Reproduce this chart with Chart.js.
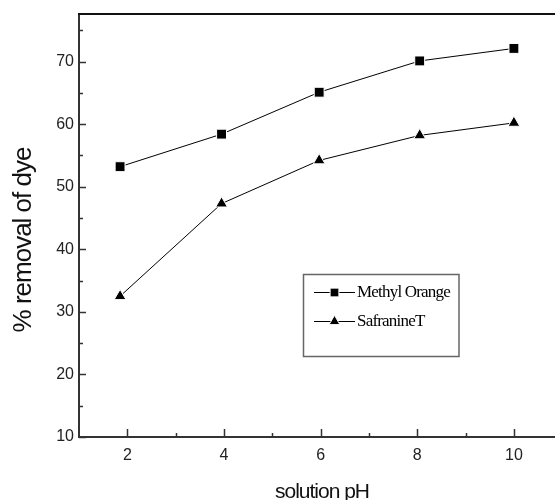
<!DOCTYPE html>
<html>
<head>
<meta charset="utf-8">
<script src="https://cdn.jsdelivr.net/npm/chart.js@4/dist/chart.umd.min.js"></script>
<style>
  html, body { margin: 0; padding: 0; background: #fff; }
  #wrap { width: 555px; height: 500px; }
</style>
</head>
<body>
<div id="wrap"><canvas id="c" width="555" height="500"></canvas></div>
<script>
// ---- data ----
const phValues = [1.85, 3.95, 5.97, 8.05, 10];
const methylOrange = [53.2, 58.4, 65.1, 70.1, 72.1];
const safranineT = [32.5, 47.3, 54.2, 58.2, 60.2];
const seriesNames = ['Methyl Orange', 'SafranineT'];
const xMajorTicks = [2, 4, 6, 8, 10];
const xMinorTicks = [3, 5, 7, 9];
const yMajorTicks = [10, 20, 30, 40, 50, 60, 70];
const yMinorTicks = [15, 25, 35, 45, 55, 65, 75];
const xTitle = 'solution pH';
const yTitle = '% removal of dye';

const toPoints = (xs, ys) => xs.map((x, i) => ({ x: x, y: ys[i] }));

const SANS = "'Liberation Sans', Arial, Helvetica, sans-serif";
const SERIF = "'Liberation Serif', 'Times New Roman', serif";

const framePlugin = {
  id: 'frame',
  afterDatasetsDraw(chart) {
    const { ctx, chartArea, scales } = chart;
    const xs = scales.x, ys = scales.y;
    ctx.save();
    // top frame line
    ctx.strokeStyle = '#111';
    ctx.lineWidth = 2;
    ctx.beginPath();
    ctx.moveTo(chartArea.left - 1, chartArea.top);
    ctx.lineTo(chart.width, chartArea.top);
    ctx.stroke();
    // inward ticks
    ctx.strokeStyle = '#333';
    ctx.lineWidth = 1.5;
    const tick = (x1, y1, x2, y2) => { ctx.beginPath(); ctx.moveTo(x1, y1); ctx.lineTo(x2, y2); ctx.stroke(); };
    xMajorTicks.forEach(v => { const p = Math.round(xs.getPixelForValue(v)) + 0.5; tick(p, chartArea.bottom, p, chartArea.bottom - 8); });
    xMinorTicks.forEach(v => { const p = Math.round(xs.getPixelForValue(v)) + 0.5; tick(p, chartArea.bottom, p, chartArea.bottom - 4); });
    yMajorTicks.forEach(v => { const p = Math.round(ys.getPixelForValue(v)) + 0.5; tick(chartArea.left, p, chartArea.left + 7, p); });
    yMinorTicks.forEach(v => { const p = Math.round(ys.getPixelForValue(v)) + 0.5; tick(chartArea.left, p, chartArea.left + 4, p); });
    ctx.restore();
  },
  afterDraw(chart) {
    const { ctx } = chart;
    ctx.save();
    // axis titles
    ctx.fillStyle = '#111';
    ctx.font = '21px ' + SANS;
    if ('letterSpacing' in ctx) ctx.letterSpacing = '-1px';
    ctx.textAlign = 'center';
    ctx.textBaseline = 'alphabetic';
    ctx.fillText(xTitle, 322, 498);
    ctx.save();
    ctx.translate(31, 240);
    ctx.rotate(-Math.PI / 2);
    ctx.font = '26px ' + SANS;
    ctx.fillText(yTitle, 0, 0);
    ctx.restore();
    if ('letterSpacing' in ctx) ctx.letterSpacing = '0px';

    // legend box
    ctx.strokeStyle = '#666';
    ctx.lineWidth = 1.5;
    ctx.strokeRect(303.5, 274.5, 155.5, 82);
    const rows = [292, 321];
    const styles = ['rect', 'triangle'];
    ctx.font = '17px ' + SERIF;
    if ('letterSpacing' in ctx) ctx.letterSpacing = '-0.8px';
    ctx.textAlign = 'left';
    ctx.textBaseline = 'middle';
    rows.forEach((yy, i) => {
      ctx.strokeStyle = '#000';
      ctx.lineWidth = 1;
      ctx.beginPath();
      ctx.moveTo(314, yy + 0.5);
      ctx.lineTo(355, yy + 0.5);
      ctx.stroke();
      ctx.fillStyle = '#000';
      ctx.strokeStyle = '#fff';
      Chart.helpers.drawPoint(ctx, {
        pointStyle: styles[i], radius: 6.2, rotation: 0, borderWidth: 1
      }, 334.5, yy + 0.5);
      ctx.fillStyle = '#000';
      ctx.fillText(chart.data.datasets[i].label, 357, yy + 1);
    });
    ctx.restore();
  }
};

new Chart(document.getElementById('c'), {
  type: 'line',
  data: {
    datasets: [
      {
        label: seriesNames[0],
        data: toPoints(phValues, methylOrange),
        borderColor: '#000',
        borderWidth: 1,
        pointStyle: 'rect',
        pointRadius: 7,
        pointBackgroundColor: '#000',
        pointBorderColor: '#fff',
        pointBorderWidth: 1,
        tension: 0
      },
      {
        label: seriesNames[1],
        data: toPoints(phValues, safranineT),
        borderColor: '#000',
        borderWidth: 1,
        pointStyle: 'triangle',
        pointRadius: 6.8,
        pointBackgroundColor: '#000',
        pointBorderColor: '#fff',
        pointBorderWidth: 1,
        tension: 0
      }
    ]
  },
  options: {
    responsive: false,
    animation: false,
    devicePixelRatio: 1,
    layout: { autoPadding: false, padding: { top: 14, right: 0, left: 0, bottom: 0 } },
    plugins: { legend: { display: false }, tooltip: { enabled: false } },
    scales: {
      x: {
        type: 'linear',
        min: 1,
        max: 10.85,
        grid: { display: false, drawTicks: false },
        border: { display: true, color: '#333', width: 2 },
        ticks: { color: '#222', font: { family: SANS, size: 16 }, padding: 9, maxRotation: 0 },
        afterBuildTicks: s => { s.ticks = xMajorTicks.map(v => ({ value: v })); },
        afterFit: s => { s.height = 63; s.paddingLeft = 0; s.paddingRight = 0; }
      },
      y: {
        type: 'linear',
        min: 10,
        max: 77.6,
        grid: { display: false, drawTicks: false },
        border: { display: true, color: '#333', width: 2 },
        ticks: { color: '#222', font: { family: SANS, size: 16 }, padding: 5 },
        afterBuildTicks: s => { s.ticks = yMajorTicks.map(v => ({ value: v })); },
        afterFit: s => { s.width = 79; s.paddingTop = 0; s.paddingBottom = 0; }
      }
    }
  },
  plugins: [framePlugin]
});
</script>
</body>
</html>
